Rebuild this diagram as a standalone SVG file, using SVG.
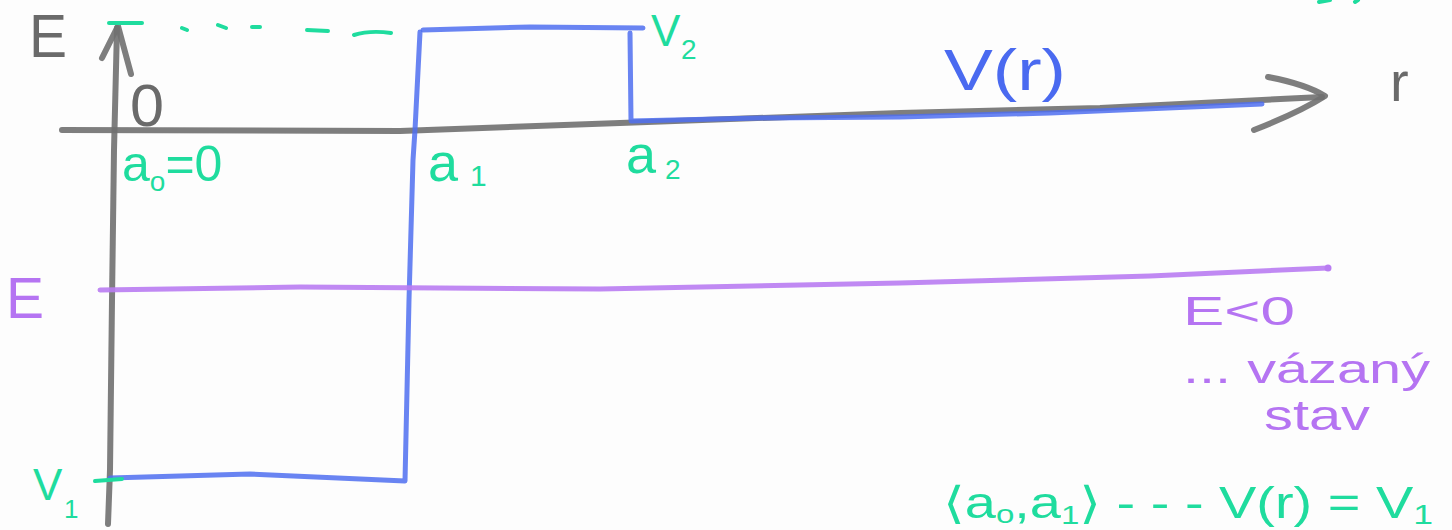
<svg xmlns="http://www.w3.org/2000/svg" width="1452" height="530" viewBox="0 0 1452 530">
<style>
.ax{fill:none;stroke:#707070;stroke-width:6;stroke-linecap:round;stroke-linejoin:round;opacity:.9}
.pot{fill:none;stroke:#4f6ff0;stroke-width:5;stroke-linecap:round;stroke-linejoin:round;opacity:.85}
.en{fill:none;stroke:#b97cf2;stroke-width:5;stroke-linecap:round;opacity:.9}
.gr{fill:none;stroke:#1fdc9e;stroke-width:4;stroke-linecap:round}
text{font-family:"Liberation Sans","DejaVu Sans",sans-serif}
.tg{fill:#6a6a6a}
.tgr{fill:#1fdc9e}
.tb{fill:#4a6af0}
.tp{fill:#b574f2}
</style>
<rect width="1452" height="530" fill="#fdfdfd"/>
<g id="axes">
<path class="ax" d="M108,524 L110,470 L112,300 L114,150 L117,28"/>
<path class="ax" d="M102,58 L118,26 L131,74"/>
<path class="ax" d="M62,130 L400,131 L620,123 L900,113 L1100,108 L1322,97"/>
<path class="ax" d="M1268,77 Q1305,84 1325,96 Q1300,112 1254,130"/>
</g>
<g id="potential">
<path class="pot" d="M110,478 L250,474 L405,481 L409,300 L413,160 L415,130 L420,32"/>
<path class="pot" d="M423,30 L530,27 L643,28"/>
<path class="pot" d="M630,33 L631,121 L760,118 L900,117 L1050,113 L1262,104"/>
</g>
<g id="energy">
<path class="en" d="M100,290 L300,287 L600,289 L900,283 L1150,276 L1328,268"/>
<circle cx="1328" cy="268" r="3.5" fill="#b97cf2"/>
</g>
<g id="ticks">
<path class="gr" d="M109,23 L142,23"/>
<path class="gr" d="M182,28 L187,30 M218,25 L226,28 M252,27 L260,27 M307,30 L328,31 M354,35 Q370,30 391,33"/>
<path class="gr" d="M95,481 L122,479"/>
<path class="gr" d="M1319,2 L1330,0 M1355,2 L1358,0"/>
</g>
<g id="labels">
<text class="tg" x="29" y="57" font-size="62" textLength="38" lengthAdjust="spacingAndGlyphs">E</text>
<text class="tg" x="130" y="126" font-size="60" textLength="34" lengthAdjust="spacingAndGlyphs">0</text>
<text class="tgr" x="122" y="181" font-size="50">a<tspan font-size="28" dy="10">o</tspan><tspan dy="-10">=0</tspan></text>
<text class="tgr" x="428" y="181" font-size="54">a</text>
<text class="tgr" x="470" y="186" font-size="30">1</text>
<text class="tgr" x="626" y="173" font-size="54">a</text>
<text class="tgr" x="665" y="179" font-size="28">2</text>
<text class="tgr" x="651" y="46" font-size="44">V</text>
<text class="tgr" x="681" y="59" font-size="28">2</text>
<text class="tb" x="944" y="90" font-size="58" textLength="122" lengthAdjust="spacingAndGlyphs">V(r)</text>
<text class="tg" x="1390" y="101" font-size="56">r</text>
<text class="tp" x="6" y="318" font-size="58" textLength="38" lengthAdjust="spacingAndGlyphs">E</text>
<text class="tgr" x="33" y="500" font-size="44">V</text>
<text class="tgr" x="64" y="518" font-size="26">1</text>
<text class="tp" x="1183" y="325" font-size="40" textLength="112" lengthAdjust="spacingAndGlyphs">E&lt;0</text>
<text class="tp" x="1183" y="383" font-size="40" textLength="247" lengthAdjust="spacingAndGlyphs">... vázaný</text>
<text class="tp" x="1264" y="430" font-size="42" textLength="106" lengthAdjust="spacingAndGlyphs">stav</text>
<text class="tgr" x="943" y="518" font-size="44" textLength="490" lengthAdjust="spacingAndGlyphs">⟨a<tspan font-size="26" dy="5">o</tspan><tspan dy="-5">,a</tspan><tspan font-size="26" dy="6">1</tspan><tspan dy="-6">⟩ - - - V(r) = V</tspan><tspan font-size="28" dy="6">1</tspan></text>
</g>
</svg>
